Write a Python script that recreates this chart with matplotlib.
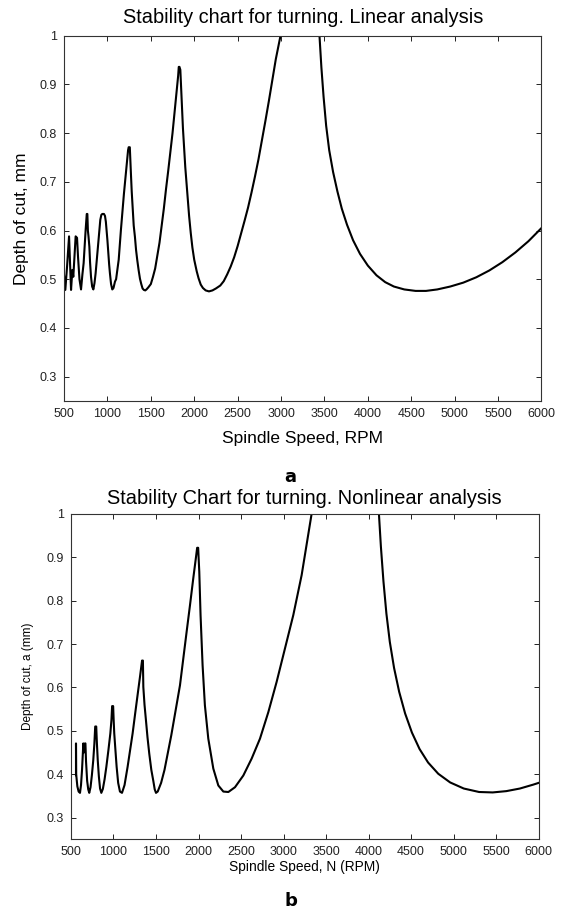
import numpy as np
import matplotlib
matplotlib.use("Agg")
import matplotlib.pyplot as plt

plt.rcParams['font.family'] = ['Liberation Sans', 'DejaVu Sans']

# --- data (rpm, depth of cut in mm) ---
# linear analysis; nan where the lobe leaves the top of the plot
lin_rpm = [500, 515, 535, 558, 569, 581, 596, 607, 634, 650, 661, 678, 696, 712, 726,
           738, 749, 762, 769, 775, 782, 792, 800, 811, 824, 838, 851, 864, 880, 895,
           908, 918, 930, 941, 960, 972, 982, 991, 1000, 1010, 1020, 1029, 1042, 1056,
           1070, 1087, 1100, 1130, 1155, 1190, 1220, 1238, 1245, 1258, 1265, 1271, 1280,
           1290, 1303, 1317, 1330, 1344, 1360, 1375, 1390, 1405, 1420, 1436, 1450, 1470,
           1500, 1525, 1550, 1575, 1600, 1625, 1650, 1675, 1700, 1725, 1750, 1775, 1800,
           1815, 1822, 1830, 1840, 1850, 1860, 1870, 1883, 1897, 1910, 1925, 1941, 1960,
           1979, 2000, 2029, 2050, 2075, 2100, 2132, 2170, 2210, 2250, 2300, 2340, 2380,
           2420, 2460, 2500, 2540, 2580, 2620, 2660, 2700, 2740, 2780, 2820, 2860, 2900,
           2940, 2994, np.nan,
           3443, 3465, 3490, 3520, 3555, 3600, 3650, 3700, 3760, 3830, 3910, 4000, 4100,
           4200, 4300, 4420, 4550, 4670, 4800, 4950, 5100, 5250, 5400, 5550, 5700, 5850,
           6000]
lin_depth = [0.509, 0.478, 0.526, 0.588, 0.533, 0.478, 0.519, 0.505, 0.588, 0.585, 0.547,
             0.500, 0.479, 0.510, 0.533, 0.570, 0.601, 0.634, 0.634, 0.600, 0.588, 0.567,
             0.535, 0.505, 0.485, 0.479, 0.492, 0.512, 0.545, 0.574, 0.605, 0.622, 0.632,
             0.634, 0.634, 0.630, 0.618, 0.600, 0.580, 0.555, 0.530, 0.512, 0.490, 0.479,
             0.482, 0.495, 0.500, 0.540, 0.600, 0.675, 0.730, 0.765, 0.771, 0.771, 0.740,
             0.716, 0.680, 0.648, 0.610, 0.587, 0.560, 0.539, 0.518, 0.501, 0.490, 0.481,
             0.478, 0.477, 0.479, 0.483, 0.490, 0.505, 0.522, 0.548, 0.575, 0.610, 0.645,
             0.685, 0.722, 0.762, 0.800, 0.845, 0.890, 0.918, 0.936, 0.936, 0.930, 0.890,
             0.850, 0.810, 0.770, 0.730, 0.700, 0.665, 0.630, 0.595, 0.565, 0.540, 0.516,
             0.502, 0.489, 0.482, 0.477, 0.475, 0.477, 0.481, 0.487, 0.496, 0.510, 0.526,
             0.545, 0.568, 0.594, 0.620, 0.647, 0.678, 0.711, 0.746, 0.785, 0.825, 0.866,
             0.909, 0.952, 1.000, np.nan,
             1.000, 0.935, 0.875, 0.815, 0.765, 0.720, 0.680, 0.645, 0.612, 0.580, 0.552,
             0.528, 0.508, 0.494, 0.485, 0.479, 0.476, 0.476, 0.479, 0.485, 0.493, 0.504,
             0.518, 0.535, 0.555, 0.578, 0.605]

# nonlinear analysis
nl_rpm = [559, 559, 561, 575, 590, 606, 618, 630, 640, 645, 652, 658, 664, 670, 677, 690,
          703, 715, 730, 746, 762, 775, 785, 797, 801, 805, 815, 828, 842, 857, 875, 895,
          916, 940, 963, 976, 984, 996, 1002, 1009, 1023, 1037, 1055, 1076, 1100, 1130,
          1166, 1195, 1225, 1255, 1285, 1312, 1336, 1346, 1351, 1365, 1382, 1400, 1421,
          1445, 1468, 1485, 1500, 1520, 1560, 1600, 1640, 1680, 1720, 1752, 1782, 1820,
          1860, 1900, 1938, 1970, 1984, 1996, 2001, 2009, 2024, 2048, 2075, 2115, 2174,
          2233, 2292, 2351, 2429, 2527, 2625, 2723, 2821, 2919, 3017, 3115, 3213, 3330,
          np.nan,
          4122, 4145, 4175, 4210, 4250, 4300, 4360, 4430, 4510, 4600, 4700, 4820, 4960,
          5120, 5300, 5460, 5620, 5780, 5937, 6000]
nl_depth = [0.398, 0.471, 0.400, 0.372, 0.360, 0.357, 0.375, 0.410, 0.450, 0.471, 0.450,
            0.455, 0.471, 0.471, 0.430, 0.385, 0.365, 0.357, 0.370, 0.398, 0.432, 0.470,
            0.510, 0.510, 0.490, 0.471, 0.432, 0.395, 0.367, 0.357, 0.366, 0.388, 0.417,
            0.455, 0.494, 0.525, 0.557, 0.557, 0.525, 0.494, 0.455, 0.417, 0.380, 0.360,
            0.357, 0.375, 0.417, 0.455, 0.494, 0.540, 0.585, 0.625, 0.662, 0.662, 0.601,
            0.560, 0.524, 0.485, 0.447, 0.410, 0.385, 0.365, 0.357, 0.360, 0.380, 0.410,
            0.450, 0.490, 0.535, 0.571, 0.605, 0.665, 0.728, 0.790, 0.851, 0.900, 0.922,
            0.922, 0.900, 0.867, 0.767, 0.651, 0.559, 0.482, 0.413, 0.374, 0.360, 0.359,
            0.370, 0.397, 0.436, 0.482, 0.543, 0.613, 0.690, 0.767, 0.859, 1.000,
            np.nan,
            1.000, 0.925, 0.845, 0.770, 0.705, 0.645, 0.590, 0.540, 0.496, 0.458, 0.427,
            0.401, 0.381, 0.367, 0.359, 0.358, 0.361, 0.367, 0.376, 0.380]

x_ticks = np.arange(500, 6001, 500)
y_ticks = [0.3, 0.4, 0.5, 0.6, 0.7, 0.8, 0.9, 1.0]
y_labels = ['0.3', '0.4', '0.5', '0.6', '0.7', '0.8', '0.9', '1']


def style(ax, tick_fs):
    ax.set_xlim(500, 6000)
    ax.set_ylim(0.25, 1.0)
    ax.set_xticks(x_ticks)
    ax.set_yticks(y_ticks)
    ax.set_yticklabels(y_labels)
    ax.tick_params(direction='in', top=True, right=True, length=3.5, width=0.7,
                   labelsize=tick_fs, pad=5, colors='#222222')
    for s in ax.spines.values():
        s.set_linewidth(0.8)
        s.set_color('#333333')


fig = plt.figure(figsize=(5.66, 9.09), dpi=100)

# top: linear analysis
ax1 = fig.add_axes([0.1131, 0.5589, 0.8435, 0.4018])
ax1.plot(lin_rpm, lin_depth, color='black', lw=1.5)
style(ax1, 9)
ax1.set_title('Stability chart for turning. Linear analysis', fontsize=14.4,
              y=1.049, va='center', pad=0)
ax1.set_xlabel('Spindle Speed, RPM', fontsize=12.5, va='center')
ax1.xaxis.set_label_coords(0.5, -0.104)
ax1.set_ylabel('Depth of cut, mm', fontsize=12.5, va='center')
ax1.yaxis.set_label_coords(-0.090, 0.5)

# bottom: nonlinear analysis
ax2 = fig.add_axes([0.1254, 0.0767, 0.8262, 0.3579])
ax2.plot(nl_rpm, nl_depth, color='black', lw=1.5)
style(ax2, 9)
ax2.set_title('Stability Chart for turning. Nonlinear analysis', fontsize=14.4,
              y=1.046, va='center', pad=0)
ax2.set_xlabel('Spindle Speed, N (RPM)', fontsize=9.9, va='center')
ax2.xaxis.set_label_coords(0.5, -0.085)
ax2.set_ylabel('Depth of cut, a (mm)', fontsize=8.5, va='center')
ax2.yaxis.set_label_coords(-0.092, 0.5)

fig.text(0.513, 1 - 477 / 909, 'a', fontsize=13, fontweight='bold',
         family='DejaVu Sans', ha='center', va='center')
fig.text(0.514, 1 - 901.5 / 909, 'b', fontsize=13, fontweight='bold',
         family='DejaVu Sans', ha='center', va='center')

fig.savefig('out.png', dpi=100)
